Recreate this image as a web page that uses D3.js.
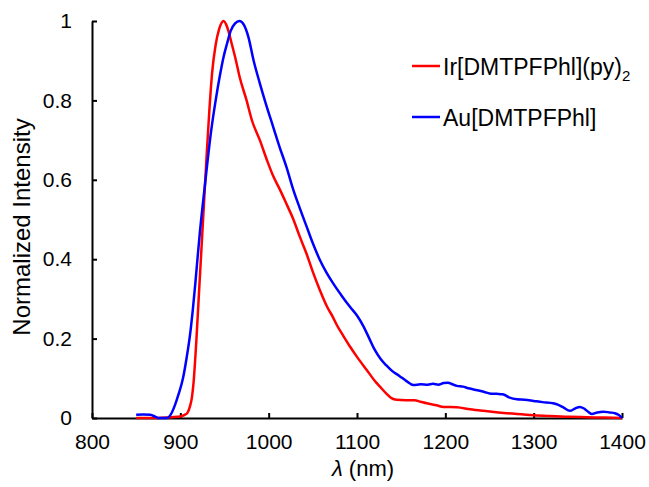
<!DOCTYPE html>
<html>
<head>
<meta charset="utf-8">
<script src="https://cdn.jsdelivr.net/npm/d3@7"></script>
<style>
  body { margin: 0; background: #fff; }
  text { font-family: "Liberation Sans", Arial, sans-serif; fill: #000; }
  .axis path, .axis line { stroke: #000; stroke-width: 2; }
  .axis text { font-size: 21px; }
</style>
</head>
<body>
<div id="chart"></div>
<script>
// emission spectra
var irWave = [850, 870, 890, 900, 905, 908, 911, 913, 915, 918, 921, 924, 927, 930, 933, 936, 940, 944, 949, 953, 958, 963, 967, 975, 981, 990, 998, 1005, 1013, 1020, 1028, 1035, 1043, 1050, 1058, 1066, 1073, 1077, 1085, 1092, 1100, 1111, 1120, 1126, 1133, 1139, 1145, 1155, 1165, 1172, 1179, 1190, 1198, 1213, 1228, 1243, 1260, 1281, 1300, 1318, 1340, 1360, 1380, 1400];
var irInt = [0, 0, 0.002, 0.004, 0.008, 0.013, 0.03, 0.05, 0.09, 0.19, 0.31, 0.43, 0.55, 0.67, 0.78, 0.87, 0.94, 0.98, 1.0, 0.985, 0.944, 0.9, 0.86, 0.8, 0.75, 0.7, 0.65, 0.61, 0.574, 0.54, 0.5, 0.458, 0.413, 0.368, 0.322, 0.281, 0.253, 0.235, 0.205, 0.18, 0.154, 0.121, 0.094, 0.079, 0.062, 0.05, 0.046, 0.045, 0.045, 0.041, 0.037, 0.032, 0.028, 0.027, 0.022, 0.018, 0.014, 0.01, 0.007, 0.005, 0.003, 0.002, 0.001, 0];

var auWave = [850, 858, 866, 872, 876, 885, 890, 894, 898, 903, 907, 911, 914, 917, 922, 928, 935, 940, 945, 949, 953, 957, 962, 967, 972, 977, 983, 990, 997, 1005, 1012, 1020, 1028, 1035, 1043, 1050, 1058, 1065, 1073, 1082, 1092, 1100, 1107, 1114, 1120, 1127, 1133, 1140, 1148, 1156, 1164, 1172, 1180, 1186, 1192, 1198, 1203, 1208, 1213, 1220, 1226, 1232, 1240, 1245, 1250, 1258, 1265, 1272, 1281, 1290, 1300, 1310, 1322, 1328, 1334, 1341, 1347, 1352, 1357, 1362, 1366, 1372, 1379, 1386, 1392, 1396, 1400];
var auInt = [0.008, 0.009, 0.008, 0.003, 0, 0, 0.012, 0.033, 0.06, 0.1, 0.15, 0.21, 0.27, 0.34, 0.465, 0.59, 0.725, 0.8, 0.865, 0.91, 0.944, 0.975, 0.994, 1.0, 0.99, 0.96, 0.9, 0.843, 0.79, 0.734, 0.685, 0.633, 0.574, 0.53, 0.482, 0.44, 0.398, 0.368, 0.339, 0.31, 0.28, 0.258, 0.232, 0.2, 0.172, 0.148, 0.133, 0.118, 0.106, 0.093, 0.083, 0.085, 0.084, 0.086, 0.084, 0.088, 0.089, 0.085, 0.081, 0.079, 0.075, 0.072, 0.068, 0.065, 0.062, 0.061, 0.06, 0.052, 0.047, 0.046, 0.043, 0.04, 0.037, 0.033, 0.026, 0.018, 0.024, 0.028, 0.024, 0.015, 0.01, 0.014, 0.016, 0.014, 0.012, 0.008, 0];

var seriesNames = ["Ir[DMTPFPhl](py)", "Au[DMTPFPhl]"];
var seriesColors = ["#ff0000", "#0000ff"];
var xTicks = [800, 900, 1000, 1100, 1200, 1300, 1400];
var yTicks = [0, 0.2, 0.4, 0.6, 0.8, 1];

var width = 649;
var height = 487;
var margin = {top: 21, left: 92, right: 27, bottom: 69};

var svg = d3.select("#chart")
  .append("svg")
  .attr("width", width)
  .attr("height", height);

var xScale = d3.scaleLinear()
  .domain([800, 1400])
  .range([margin.left, width - margin.right]);

var yScale = d3.scaleLinear()
  .domain([0, 1])
  .range([height - margin.bottom, margin.top]);

var xAxis = svg.append("g")
  .attr("class", "axis")
  .attr("transform", `translate(0,${height - margin.bottom})`)
  .call(d3.axisBottom(xScale).tickValues(xTicks).tickSizeInner(-5).tickSizeOuter(0).tickPadding(16).tickFormat(d3.format("d")));

var yAxis = svg.append("g")
  .attr("class", "axis")
  .attr("transform", `translate(${margin.left},0)`)
  .call(d3.axisLeft(yScale).tickValues(yTicks).tickSizeInner(-5).tickSizeOuter(0).tickPadding(20).tickFormat(d3.format("")));

var line = d3.line()
  .x(function(d) { return xScale(d[0]); })
  .y(function(d) { return yScale(d[1]); })
  .curve(d3.curveMonotoneX);

var series = [d3.zip(irWave, irInt), d3.zip(auWave, auInt)];

svg.selectAll(".spectrum")
  .data(series)
  .enter()
  .append("path")
    .attr("class", "spectrum")
    .attr("d", line)
    .attr("fill", "none")
    .attr("stroke", function(d, i) { return seriesColors[i]; })
    .attr("stroke-width", 2.5);

// legend
var legend = svg.selectAll(".legend")
  .data(seriesNames)
  .enter()
  .append("g")
    .attr("class", "legend")
    .attr("transform", function(d, i) { return `translate(412,${66 + i * 51})`; });

legend.append("line")
  .attr("x1", 0).attr("x2", 28)
  .attr("stroke", function(d, i) { return seriesColors[i]; })
  .attr("stroke-width", 2.5);

var legendText = legend.append("text")
  .attr("x", 31)
  .attr("y", 9)
  .style("font-size", "23px")
  .text(function(d) { return d; });

legendText.filter(function(d, i) { return i === 0; })
  .append("tspan")
  .attr("dy", 6)
  .style("font-size", "15px")
  .text("2");

svg.append("text")
  .attr("x", 363)
  .attr("y", 476)
  .attr("text-anchor", "middle")
  .style("font-size", "22px")
  .html('<tspan font-style="italic">λ</tspan> (nm)');

svg.append("text")
  .attr("transform", "rotate(-90)")
  .attr("x", -227)
  .attr("y", 30)
  .attr("text-anchor", "middle")
  .style("font-size", "24px")
  .text("Normalized Intensity");
</script>
</body>
</html>
